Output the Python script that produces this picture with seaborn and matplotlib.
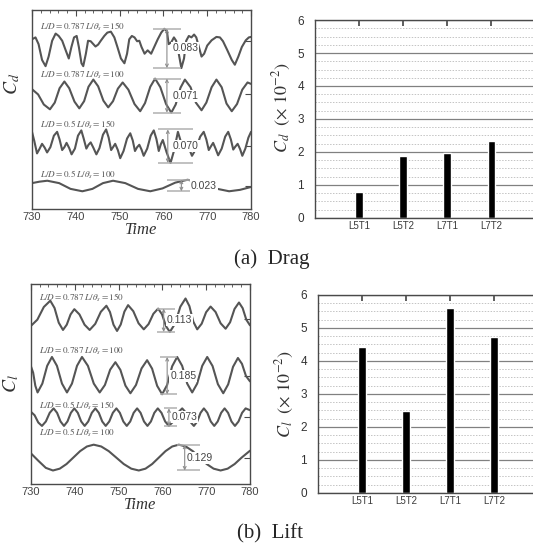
import numpy as np
import pandas as pd
import matplotlib
matplotlib.use("Agg")
import matplotlib.pyplot as plt
import seaborn as sns

# ---------------- data ----------------
bar_cases = ["L5T1", "L5T2", "L7T1", "L7T2"]
drag_rms = [0.78, 1.87, 1.96, 2.33]      # C_d (x10^-2)
lift_rms = [4.43, 2.49, 5.61, 4.74]      # C_l (x10^-2)

case_names = [r"$\mathit{L/D{=}0.787\ L/\theta_s{=}150}$",
              r"$\mathit{L/D{=}0.787\ L/\theta_s{=}100}$",
              r"$\mathit{L/D{=}0.5\ L/\theta_s{=}150}$",
              r"$\mathit{L/D{=}0.5\ L/\theta_s{=}100}$"]
drag_ptp = ["0.083", "0.071", "0.070", "0.023"]
lift_ptp = ["0.113", "0.185", "0.073", "0.129"]

# time series (Time, fluctuation x10^-3 about each trace's mean)
drag_1 = [(730.0, 3), (730.8, 7), (731.5, -7), (732.3, -40), (733.1, -53), (733.8, -33), (734.6, 0),
          (735.4, 15), (736.1, 10), (736.9, 0), (737.7, -20), (738.4, -37), (739.0, -13), (739.6, 7),
          (740.2, 10), (740.7, -13), (741.3, -47), (741.7, -53), (742.3, -27), (742.8, 0), (743.4, -1),
          (744.0, -7), (744.5, -12), (745.1, -8), (745.7, 0), (746.5, 10), (747.2, 17), (748.0, 19),
          (748.8, 7), (749.5, -13), (750.3, -37), (751.1, -47), (751.7, -27), (752.2, 3), (752.8, 10),
          (753.4, 7), (754.0, -1), (754.5, 0), (755.0, -13), (755.7, -27), (756.4, -20), (757.2, -27),
          (757.9, -13), (758.7, 3), (759.5, 17), (760.2, 25), (760.8, 20), (761.2, -7), (761.8, -3),
          (762.4, 7), (762.9, 0), (763.5, -27), (764.1, -57), (764.7, -37), (765.2, 0), (765.8, 10),
          (766.4, 7), (767.0, 13), (767.5, 7), (768.1, -13), (768.7, -33), (769.3, -27), (770.0, -10),
          (771.0, 1), (772.1, 8), (772.9, 7), (773.6, -1), (774.6, -20), (775.6, -40), (776.3, -50),
          (777.1, -33), (777.9, -13), (778.8, 1), (779.5, 7), (780.0, 8)]
drag_2 = [(730.0, 11), (731.4, 0), (732.7, -21), (734.1, -31), (735.2, -17), (736.3, 13), (737.4, 27),
          (738.5, 13), (739.7, -15), (740.8, -29), (741.9, -14), (742.9, 16), (744.0, 31), (745.1, 17),
          (746.3, -13), (747.4, -27), (748.5, -14), (749.6, 12), (750.7, 25), (752.0, 10), (753.4, -20),
          (754.7, -35), (755.8, -18), (757.0, 16), (758.1, 33), (759.3, 15), (760.6, -20), (761.8, -38),
          (762.8, -21), (763.9, 14), (764.9, 31), (766.2, 15), (767.4, -17), (768.7, -33), (769.8, -17),
          (771.0, 15), (772.1, 31), (773.3, 15), (774.4, -19), (775.6, -35), (776.8, -20), (778.0, 10),
          (779.2, 25), (780.0, 22)]
drag_3 = [(730.0, 30), (730.5, 12), (731.15, -15), (731.7, -6), (732.3, 5), (732.9, -3), (733.45, -13),
          (734.2, -2), (735.0, 22), (735.74, 30), (736.3, 14), (736.89, -8), (737.4, -2), (737.89, 7),
          (738.5, -4), (739.04, -17), (739.8, -5), (740.5, 22), (741.26, 33), (741.8, 16), (742.41, -5),
          (742.9, 3), (743.4, 8), (744.0, -3), (744.7, -17), (745.4, -4), (746.2, 24), (746.92, 35),
          (747.5, 18), (748.07, -8), (748.5, -2), (748.99, 5), (749.6, -8), (750.14, -25), (750.9, -10),
          (751.7, 16), (752.43, 27), (753.0, 12), (753.51, -10), (754.0, -2), (754.5, 3), (755.0, -7),
          (755.5, -20), (756.3, -5), (757.1, 22), (757.8, 33), (758.4, 15), (758.94, -10), (759.4, 4),
          (759.86, 13), (760.7, -12), (761.62, -35), (762.4, -10), (763.31, 30), (763.9, 12),
          (764.46, -10), (764.9, -2), (765.38, 5), (765.9, -6), (766.52, -20), (767.4, -6), (768.4, 20),
          (769.2, 30), (769.8, 14), (770.35, -8), (770.8, -1), (771.35, 7), (771.9, -5), (772.49, -19),
          (773.3, -5), (774.1, 20), (774.79, 30), (775.4, 14), (775.94, -7), (776.4, -1), (776.94, 5),
          (777.5, -6), (778.01, -20), (778.7, -5), (779.4, 18), (780.0, 30)]
drag_4 = [(730.0, 6), (731.7, 9), (733.5, 11), (736.2, 6), (738.8, -6), (741.5, -11), (743.8, -6),
          (746.2, 6), (748.5, 11), (751.3, 6), (754.2, -6), (757.0, -11), (759.8, -5), (762.7, 7),
          (765.5, 13), (768.7, 7), (771.8, -5), (775.0, -11), (777.5, -8), (780.0, -2)]

lift_1 = [(730.0, -33), (731.47, -2), (732.95, 61), (734.42, 92), (735.39, 56), (736.35, -17),
          (737.32, -53), (738.18, -27), (739.05, 24), (739.91, 50), (741.08, 24), (742.24, -27),
          (743.41, -53), (744.68, -23), (745.96, 37), (747.23, 67), (748.04, 36), (748.85, -27),
          (749.66, -58), (750.5, -26), (751.34, 38), (752.18, 70), (753.37, 40), (754.57, -20),
          (755.76, -50), (756.85, -24), (757.95, 27), (759.04, 53), (759.93, 24), (760.82, -34),
          (761.71, -63), (762.9, -22), (764.1, 62), (765.29, 103), (766.18, 65), (767.07, -12),
          (767.96, -50), (768.98, -22), (769.99, 35), (771.01, 63), (772.15, 36), (773.3, -20),
          (774.44, -47), (775.46, -15), (776.47, 51), (777.49, 83), (778.33, 55), (779.16, -2),
          (780.0, -30)]
lift_2 = [(730.0, 47), (730.51, 15), (731.01, -50), (731.52, -83), (732.61, -39), (733.71, 49),
          (734.8, 93), (735.94, 49), (737.09, -39), (738.23, -83), (739.37, -39), (740.52, 49),
          (741.66, 93), (743.01, 49), (744.35, -39), (745.7, -83), (746.89, -46), (748.09, 30),
          (749.28, 67), (750.42, 29), (751.57, -49), (752.71, -87), (753.98, -46), (755.25, 36),
          (756.52, 77), (757.66, 35), (758.81, -50), (759.95, -92), (761.09, -46), (762.24, 47),
          (763.38, 93), (764.52, 49), (765.67, -39), (766.81, -83), (767.95, -39), (769.1, 49),
          (770.24, 93), (771.46, 48), (772.68, -42), (773.9, -87), (775.02, -43), (776.13, 44),
          (777.25, 88), (778.17, 59), (779.08, -1), (780.0, -28)]
lift_3 = [(730.0, 25), (730.84, 8), (731.68, -28), (732.52, -45), (733.41, -23), (734.29, 20),
          (735.18, 42), (735.97, 20), (736.76, -23), (737.55, -45), (738.34, -23), (739.12, 20),
          (739.91, 42), (740.7, 20), (741.48, -23), (742.27, -45), (743.08, -23), (743.9, 20),
          (744.71, 42), (745.5, 20), (746.28, -23), (747.07, -45), (747.88, -23), (748.7, 20),
          (749.51, 42), (750.3, 20), (751.09, -23), (751.88, -45), (752.67, -23), (753.45, 20),
          (754.24, 42), (755.03, 20), (755.81, -23), (756.6, -45), (757.39, -23), (758.17, 20),
          (758.96, 42), (759.8, 20), (760.64, -23), (761.48, -45), (762.5, -23), (763.51, 20),
          (764.53, 42), (765.42, 20), (766.31, -23), (767.2, -45), (767.96, -23), (768.72, 20),
          (769.48, 42), (770.27, 20), (771.05, -23), (771.84, -45), (772.63, -23), (773.42, 20),
          (774.21, 42), (775.0, 20), (775.78, -23), (776.57, -45), (777.38, -23), (778.2, 20),
          (779.01, 42), (780.0, 33)]
lift_4 = [(730.0, 22), (731.7, -15), (733.4, -50), (735.03, -63), (736.58, -54), (738.13, -31),
          (739.68, 1), (741.23, 33), (742.78, 56), (744.33, 65), (746.05, 56), (747.76, 33),
          (749.48, 1), (751.19, -31), (752.91, -54), (754.62, -63), (756.15, -54), (757.67, -31),
          (759.2, 1), (760.72, 33), (762.25, 56), (763.77, 65), (765.36, 56), (766.94, 33),
          (768.53, 1), (770.12, -31), (771.7, -54), (773.29, -63), (774.9, -54), (776.5, -31),
          (778.1, 1), (780.0, 35)]

# ---------------- layout (offsets / annotation geometry) ----------------
drag_offsets = [351, 239, 131, 48]
lift_offsets = [817, 537, 333, 130]
drag_label_y = [379, 278, 175, 71]
lift_label_y = [925, 658, 387, 253]
# bracket: (t_line, t_cap_left, t_cap_right, low, high, t_text)
drag_brackets = [(760.8, 757.6, 764.1, -57, 25, 762.0),
                 (760.8, 757.6, 764.1, -38, 33, 762.0),
                 (761.0, 758.7, 766.8, -35, 35, 762.2),
                 (764.1, 760.8, 767.1, -11, 13, 766.2)]
lift_brackets = [(760.3, 758.8, 763.0, -63, 53, 761.0),
                 (761.1, 759.4, 763.4, -92, 93, 761.8),
                 (761.5, 760.3, 763.4, -45, 42, 762.1),
                 (765.1, 763.4, 768.7, -63, 65, 765.6)]

# ---------------- style ----------------
sns.set_theme(style="white")
plt.rcParams["font.family"] = ["Liberation Sans", "DejaVu Sans"]
plt.rcParams["mathtext.fontset"] = "stix"
SERIF = ["Liberation Serif", "DejaVu Serif"]
LINE = "#555555"
SPINE = "#4a4a4a"

fig = plt.figure(figsize=(5.33, 5.48), dpi=100)
ax_dt = fig.add_axes([0.060, 0.6186, 0.411, 0.363])
ax_db = fig.add_axes([0.591, 0.6022, 0.4128, 0.3613])
ax_lt = fig.add_axes([0.058, 0.1168, 0.411, 0.365])
ax_lb = fig.add_axes([0.5966, 0.1004, 0.4128, 0.3613])


def time_panel(ax, series, offsets, label_y, brackets, ptp, ymax, ylab, ylab_y):
    for s, off, ly, br, txt, name in zip(series, offsets, label_y, brackets, ptp, case_names):
        df = pd.DataFrame(s, columns=["Time", "C"])
        df["C"] = df["C"] + off
        sns.lineplot(data=df, x="Time", y="C", ax=ax, color=LINE, lw=1.5,
                     estimator=None, sort=False, solid_joinstyle="round")
        ax.text(731.8, ly, name, fontsize=6.6, color="#555555", va="center", ha="left")
        tl, ta, tb, lo, hi, tt = br
        ax.hlines([off + lo, off + hi], ta, tb, color="#b0b0b0", lw=1.1)
        ax.annotate("", xy=(tl, off + lo), xytext=(tl, off + hi),
                    arrowprops=dict(arrowstyle="<->", color="#8c8c8c", lw=0.8,
                                    shrinkA=0, shrinkB=0, mutation_scale=5))
        ax.text(tt, off + (lo + hi) / 2, txt, fontsize=7.5, color="#444444",
                va="center", ha="left",
                bbox=dict(boxstyle="square,pad=0.1", fc="white", ec="none"))
    ax.set_xlim(730, 780)
    ax.set_ylim(0, ymax)
    ax.set_xticks(np.arange(730, 781, 10))
    ax.set_xticks(np.arange(730, 781, 2), minor=True)
    ax.set_yticks(offsets)
    ax.set_yticklabels([])
    ax.tick_params(axis="both", which="both", direction="in", top=True, right=True,
                   color=SPINE, labelsize=8, labelcolor="#444444", pad=2)
    ax.tick_params(which="major", length=4, width=0.8)
    ax.tick_params(which="minor", length=2, width=0.6)
    for sp in ax.spines.values():
        sp.set_color(SPINE)
        sp.set_linewidth(1.0)
    ax.set_xlabel("Time", family=SERIF, style="italic", fontsize=12, color="#333333", labelpad=0)
    ax.set_ylabel(ylab, fontsize=14, color="#333333")
    ax.yaxis.set_label_coords(-0.045, ylab_y)


def bar_panel(ax, values, ylab, ylab_y):
    df = pd.DataFrame({"case": bar_cases, "val": values})
    sns.barplot(data=df, x="case", y="val", ax=ax, color="black", width=0.16,
                saturation=1, errorbar=None)
    ax.set_xlim(-1, 4)
    ax.set_ylim(0, 6)
    ax.set_yticks(np.arange(0, 7, 1))
    ax.set_yticks(np.arange(0, 6.01, 0.25), minor=True)
    ax.grid(axis="y", which="major", color="#808080", lw=0.9)
    ax.grid(axis="y", which="minor", color="#c4c4c4", lw=0.7, ls=(0, (1.5, 1.5)))
    ax.grid(axis="x", visible=False)
    ax.set_axisbelow(True)
    ax.tick_params(axis="x", bottom=False, top=True, direction="in", length=4,
                   color=SPINE, labelsize=7, labelcolor="#3a3a3a", pad=2)
    ax.tick_params(axis="y", which="both", left=False, labelsize=8.5, labelcolor="#333333", pad=2)
    for sp in ax.spines.values():
        sp.set_color(SPINE)
        sp.set_linewidth(1.0)
    ax.set_xlabel("")
    ax.set_ylabel(ylab, fontsize=13, color="#333333")
    ax.yaxis.set_label_coords(-0.10, ylab_y)


time_panel(ax_dt, [drag_1, drag_2, drag_3, drag_4], drag_offsets, drag_label_y,
           drag_brackets, drag_ptp, 415, r"$C_d$", 0.63)
time_panel(ax_lt, [lift_1, lift_2, lift_3, lift_4], lift_offsets, lift_label_y,
           lift_brackets, lift_ptp, 992, r"$C_l$", 0.5)
bar_panel(ax_db, drag_rms, r"$C_d\ \ (\times\ \mathit{10}^{-2})$", 0.56)
bar_panel(ax_lb, lift_rms, r"$C_l\ \ (\times\ \mathit{10}^{-2})$", 0.5)

fig.text(0.510, 1 - 259 / 548, "(a)  Drag", family=SERIF, fontsize=15, ha="center", va="center")
fig.text(0.507, 1 - 534 / 548, "(b)  Lift", family=SERIF, fontsize=15, ha="center", va="center")

fig.savefig("out.png", dpi=100)
